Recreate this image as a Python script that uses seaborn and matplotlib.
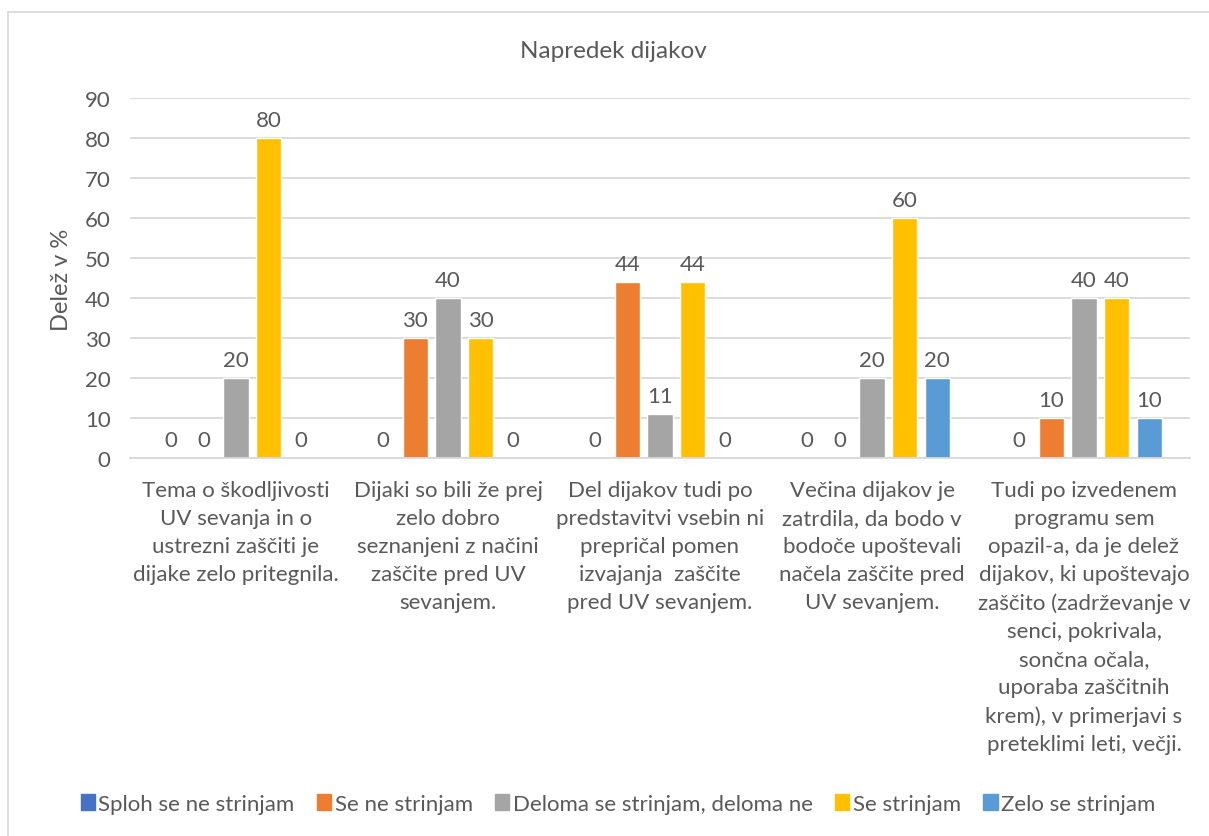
import numpy as np
import pandas as pd
import seaborn as sns
import matplotlib.pyplot as plt
from matplotlib.lines import Line2D

# data
categories = [
    "Tema o škodljivosti\nUV sevanja in o\nustrezni zaščiti je\ndijake zelo pritegnila.",
    "Dijaki so bili že prej\nzelo dobro\nseznanjeni z načini\nzaščite pred UV\nsevanjem.",
    "Del dijakov tudi po\npredstavitvi vsebin ni\nprepričal pomen\nizvajanja  zaščite\npred UV sevanjem.",
    "Večina dijakov je\nzatrdila, da bodo v\nbodoče upoštevali\nnačela zaščite pred\nUV sevanjem.",
    "Tudi po izvedenem\nprogramu sem\nopazil-a, da je delež\ndijakov, ki upoštevajo\nzaščito (zadrževanje v\nsenci, pokrivala,\nsončna očala,\nuporaba zaščitnih\nkrem), v primerjavi s\npreteklimi leti, večji.",
]
series_names = [
    "Sploh se ne strinjam",
    "Se ne strinjam",
    "Deloma se strinjam, deloma ne",
    "Se strinjam",
    "Zelo se strinjam",
]
sploh = [0, 0, 0, 0, 0]
se_ne = [0, 30, 44, 0, 10]
deloma = [20, 40, 11, 20, 40]
se_strinjam = [80, 30, 44, 60, 40]
zelo = [0, 0, 0, 20, 10]
yticks = [0, 10, 20, 30, 40, 50, 60, 70, 80, 90]

colors = ["#4472C4", "#ED7D31", "#A5A5A5", "#FFC000", "#5B9BD5"]
text_col = "#595959"
grid_col = "#D9D9D9"

rows = []
for name, vals in zip(series_names, [sploh, se_ne, deloma, se_strinjam, zelo]):
    for cat, v in zip(categories, vals):
        rows.append({"cat": cat, "series": name, "val": v})
df = pd.DataFrame(rows)

sns.set_style("white")
plt.rcParams["font.family"] = ["Lato", "DejaVu Sans"]

W, H = 1209, 837
fig = plt.figure(figsize=(W / 100, H / 100), dpi=100)
ax = fig.add_axes([130 / W, 1 - 459 / H, (1190 - 130) / W, (459 - 99) / H])

sns.barplot(data=df, x="cat", y="val", hue="series", hue_order=series_names,
            palette=colors, width=0.77, gap=0.22, ax=ax, legend=False,
            saturation=1, errorbar=None)

for cont in ax.containers:
    ax.bar_label(cont, fmt="%d", padding=6, fontsize=16, color=text_col)

ax.set_ylim(0, 90)
ax.set_xlim(-0.5, 4.5)
ax.set_yticks(yticks)
ax.yaxis.grid(True, color=grid_col, linewidth=1.3)
ax.set_axisbelow(True)
for s in ["top", "right", "left"]:
    ax.spines[s].set_visible(False)
ax.spines["bottom"].set_color(grid_col)
ax.spines["bottom"].set_linewidth(1.3)
ax.tick_params(axis="both", length=0, colors=text_col, labelsize=16)
ax.tick_params(axis="y", pad=14)
ax.tick_params(axis="x", pad=16)
ax.set_xticks(range(len(categories)))
ax.set_xticklabels(categories, linespacing=1.5, va="top", ha="center")
ax.set_xlabel("")
ax.set_ylabel("")

fig.text(613 / W, 1 - 52 / H, "Napredek dijakov", ha="center", va="center",
         fontsize=17.5, color=text_col)
fig.text(62 / W, 1 - 280 / H, "Delež v %", ha="center", va="center",
         rotation=90, fontsize=17, color=text_col)

handles = [plt.Rectangle((0, 0), 1, 1, color=c) for c in colors]
fig.legend(handles, series_names, loc="center", bbox_to_anchor=(618 / W, 1 - 805 / H),
           ncol=5, frameon=False, fontsize=16, handlelength=0.65, handleheight=0.75,
           handletextpad=0.15, columnspacing=1.0, labelcolor=text_col)

# chart border
fig.add_artist(Line2D([8 / W, 1.0], [1 - 13 / H, 1 - 13 / H], color=grid_col, lw=1.3))
fig.add_artist(Line2D([8 / W, 8 / W], [0, 1 - 13 / H], color=grid_col, lw=1.3))

fig.savefig("out.png", dpi=100)
